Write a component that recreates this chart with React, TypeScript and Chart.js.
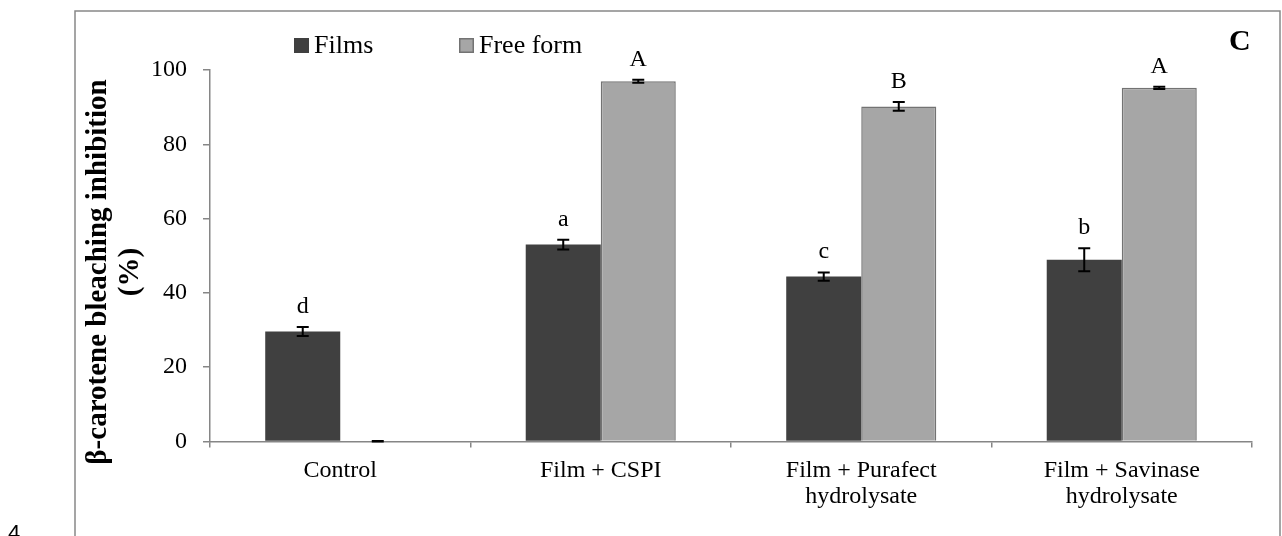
import React, { useEffect, useRef } from "react";
import { Chart, registerables } from "chart.js";

Chart.register(...registerables);

const categories: string[][] = [
  ["Control"],
  ["Film + CSPI"],
  ["Film + Purafect", "hydrolysate"],
  ["Film + Savinase", "hydrolysate"],
];
const seriesNames = ["Films", "Free form"];
const filmsValues = [29.6, 53.0, 44.4, 48.9];
const filmsErrors = [1.2, 1.3, 1.1, 3.1];
const freeValues = [0, 97.0, 90.2, 95.2];
const freeErrors = [0.15, 0.4, 1.2, 0.3];
const filmsLetters = ["d", "a", "c", "b"];
const freeLetters = ["", "A", "B", "A"];
const yMin = 0;
const yMax = 100;
const yStep = 20;
const yTitle = ["β-carotene bleaching inhibition", "(%)"];
const panelLabel = "C";
const pageNumber = "4";

const SERIF = "'Liberation Serif', 'Times New Roman', serif";
const FILM_COLOR = "#404040";
const FREE_COLOR = "#A6A6A6";
const FREE_BORDER = "#737373";
const AXIS_COLOR = "#868686";

const errors = [filmsErrors, freeErrors];
const letters = [filmsLetters, freeLetters];

const decorPlugin = {
  id: "decor",
  afterDatasetsDraw(chart: any) {
    const ctx = chart.ctx as CanvasRenderingContext2D;
    const y = chart.scales.y;
    ctx.save();
    chart.data.datasets.forEach((ds: any, di: number) => {
      const meta = chart.getDatasetMeta(di);
      meta.data.forEach((el: any, i: number) => {
        const v = ds.data[i] as number;
        const e = errors[di][i];
        const x = el.x;
        const yTop = y.getPixelForValue(v + e);
        const yBot = y.getPixelForValue(Math.max(v - e, 0));
        ctx.strokeStyle = "#000";
        ctx.lineWidth = 2;
        ctx.beginPath();
        ctx.moveTo(x, yTop);
        ctx.lineTo(x, yBot);
        ctx.moveTo(x - 6, yTop);
        ctx.lineTo(x + 6, yTop);
        ctx.moveTo(x - 6, yBot);
        ctx.lineTo(x + 6, yBot);
        ctx.stroke();
        const letter = letters[di][i];
        if (letter) {
          ctx.fillStyle = "#000";
          ctx.font = `24px ${SERIF}`;
          ctx.textAlign = "center";
          ctx.textBaseline = "alphabetic";
          ctx.fillText(letter, x, yTop - 14);
        }
      });
    });
    ctx.restore();
  },
  afterDraw(chart: any) {
    const ctx = chart.ctx as CanvasRenderingContext2D;
    ctx.save();
    // frame
    ctx.strokeStyle = "#888888";
    ctx.lineWidth = 1.5;
    ctx.beginPath();
    ctx.moveTo(75, 545);
    ctx.lineTo(75, 11);
    ctx.lineTo(1280, 11);
    ctx.lineTo(1280, 545);
    ctx.stroke();

    // y title
    ctx.fillStyle = "#000";
    ctx.font = `bold 29px ${SERIF}`;
    ctx.textAlign = "center";
    ctx.textBaseline = "middle";
    const titleX = [99, 131];
    yTitle.forEach((t, k) => {
      ctx.save();
      ctx.translate(titleX[k], 272);
      ctx.rotate(-Math.PI / 2);
      ctx.fillText(t, 0, 0);
      ctx.restore();
    });

    // legend
    ctx.font = `26px ${SERIF}`;
    ctx.textAlign = "left";
    ctx.textBaseline = "alphabetic";
    const legendX = [294, 459];
    chart.data.datasets.forEach((ds: any, di: number) => {
      const lx = legendX[di];
      ctx.fillStyle = ds.backgroundColor;
      ctx.fillRect(lx, 38, 15, 15);
      if (di === 1) {
        ctx.strokeStyle = FREE_BORDER;
        ctx.lineWidth = 1.5;
        ctx.strokeRect(lx + 0.75, 38.75, 13.5, 13.5);
      }
      ctx.fillStyle = "#000";
      ctx.fillText(ds.label, lx + 20, 53);
    });

    // panel label
    ctx.font = `bold 30px ${SERIF}`;
    ctx.textAlign = "left";
    ctx.fillText(panelLabel, 1229, 50);

    // page number
    ctx.font = `22px 'Liberation Sans', Arial, sans-serif`;
    ctx.fillText(pageNumber, 8, 540);
    ctx.restore();
  },
};

export default function App() {
  const ref = useRef<HTMLCanvasElement | null>(null);
  useEffect(() => {
    if (!ref.current) return;
    const chart = new Chart(ref.current, {
      type: "bar",
      data: {
        labels: categories,
        datasets: [
          {
            label: seriesNames[0],
            data: filmsValues,
            backgroundColor: FILM_COLOR,
            borderColor: FILM_COLOR,
            borderWidth: 0,
            categoryPercentage: 0.576,
            barPercentage: 1,
          },
          {
            label: seriesNames[1],
            data: freeValues,
            backgroundColor: FREE_COLOR,
            borderColor: FREE_BORDER,
            borderWidth: 1.5,
            categoryPercentage: 0.576,
            barPercentage: 1,
          },
        ],
      },
      options: {
        responsive: false,
        animation: false,
        devicePixelRatio: 1,
        layout: { padding: { left: 0, right: 30, top: 70, bottom: 0 } },
        plugins: {
          legend: { display: false },
          tooltip: { enabled: false },
        },
        scales: {
          x: {
            afterFit: (s: any) => {
              s.height = 94.5;
            },
            grid: {
              offset: true,
              drawOnChartArea: false,
              drawTicks: true,
              tickLength: 6,
              color: AXIS_COLOR,
              lineWidth: 1.5,
            },
            border: { color: AXIS_COLOR, width: 1.5 },
            ticks: {
              color: "#000",
              padding: 10,
              maxRotation: 0,
              autoSkip: false,
              font: { family: SERIF, size: 24, lineHeight: 1.1 },
            },
          },
          y: {
            min: yMin,
            max: yMax,
            afterFit: (s: any) => {
              s.width = 210;
            },
            grid: {
              drawOnChartArea: false,
              drawTicks: true,
              tickLength: 7,
              color: AXIS_COLOR,
              lineWidth: 1.5,
            },
            border: { color: AXIS_COLOR, width: 1.5 },
            ticks: {
              stepSize: yStep,
              color: "#000",
              padding: 16,
              font: { family: SERIF, size: 24 },
            },
          },
        },
      },
      plugins: [decorPlugin],
    });
    return () => chart.destroy();
  }, []);
  return (
    <div style={{ position: "absolute", left: 0, top: 0, width: 1282, height: 536, background: "#fff" }}>
      <canvas ref={ref} width={1282} height={536} style={{ display: "block" }} />
    </div>
  );
}
